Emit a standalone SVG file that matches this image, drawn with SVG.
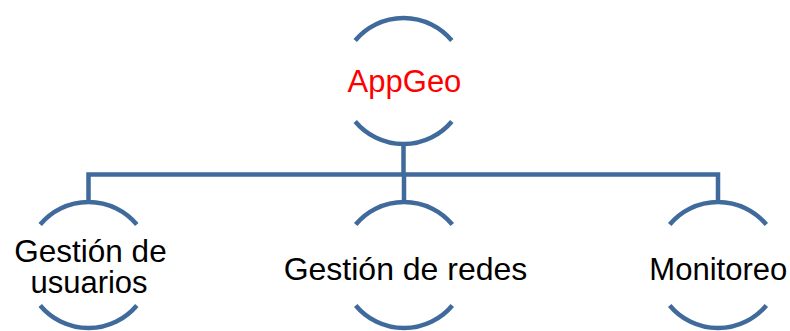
<svg xmlns="http://www.w3.org/2000/svg" width="790" height="331" viewBox="0 0 790 331">
  <style>
    .arc { fill: none; stroke: #416a9c; stroke-width: 4.5; }
    .link { fill: none; stroke: #416a9c; stroke-width: 4.5; stroke-linejoin: miter; }
    .label { font-family: "Liberation Sans", Arial, sans-serif; font-size: 31px; fill: #000; text-anchor: middle; }
    .root { fill: #ff0000; }
  </style>
  <rect width="790" height="331" fill="#ffffff"/>

  <!-- connectors -->
  <g id="connectors">
    <path class="link" d="M403.5,143 V174.5"/>
    <path class="link" d="M88.5,202 V174.5 H718 V202"/>
    <path class="link" d="M404,174.5 V202"/>
  </g>

  <!-- root node -->
  <g id="node-appgeo">
    <path class="arc" d="M355.2,40.5 A63,63 0 0 1 451.8,40.5"/>
    <path class="arc" d="M355.2,121.5 A63,63 0 0 0 451.8,121.5"/>
    <text class="label root" x="404.5" y="91.5" style="font-size:31px">AppGeo</text>
  </g>

  <!-- child nodes -->
  <g id="node-usuarios">
    <path class="arc" d="M40.2,224.5 A63,63 0 0 1 136.8,224.5"/>
    <path class="arc" d="M40.2,305.5 A63,63 0 0 0 136.8,305.5"/>
    <text class="label" x="90.5" y="261.5" style="font-size:31.5px">Gestión de</text>
    <text class="label" x="89" y="292.5">usuarios</text>
  </g>

  <g id="node-redes">
    <path class="arc" d="M355.7,224.5 A63,63 0 0 1 452.3,224.5"/>
    <path class="arc" d="M355.7,305.5 A63,63 0 0 0 452.3,305.5"/>
    <text class="label" x="405.5" y="280" style="font-size:32px">Gestión de redes</text>
  </g>

  <g id="node-monitoreo">
    <path class="arc" d="M669.7,224.5 A63,63 0 0 1 766.3,224.5"/>
    <path class="arc" d="M669.7,305.5 A63,63 0 0 0 766.3,305.5"/>
    <text class="label" x="718.3" y="280">Monitoreo</text>
  </g>
</svg>
